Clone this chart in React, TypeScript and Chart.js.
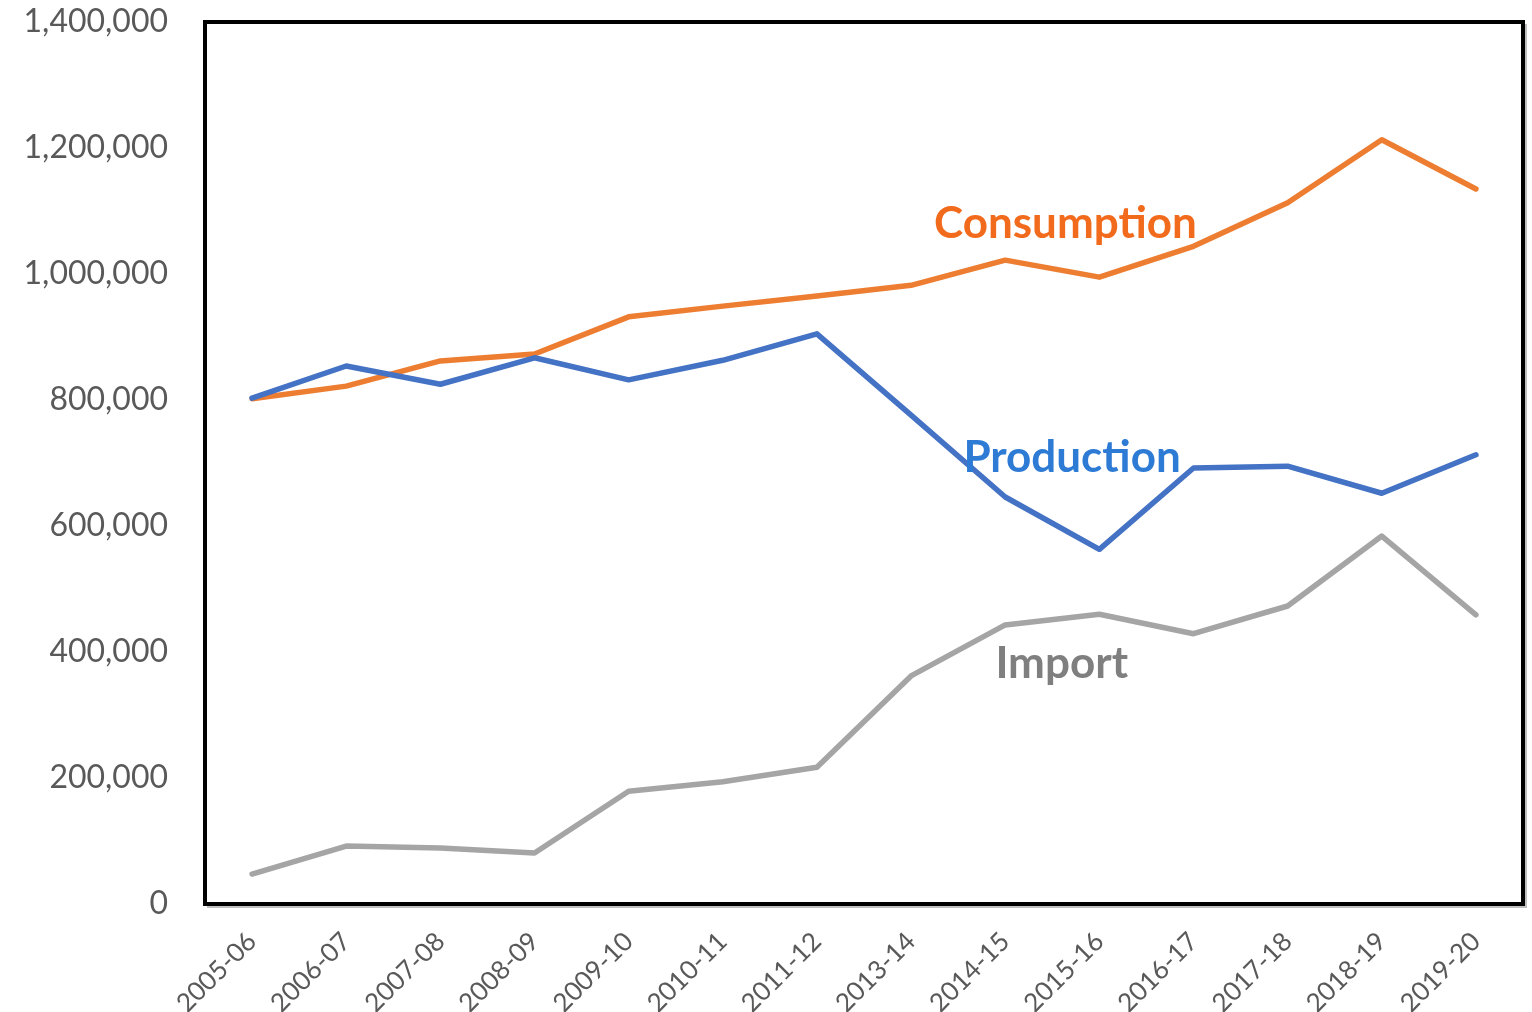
import React, { useEffect, useRef } from "react";
import { Chart, registerables } from "chart.js";

Chart.register(...registerables);

const categories = ["2005-06","2006-07","2007-08","2008-09","2009-10","2010-11","2011-12","2013-14","2014-15","2015-16","2016-17","2017-18","2018-19","2019-20"];
const production = [803000, 854000, 825000, 867000, 832000, 863000, 905000, 776000, 646000, 563000, 692000, 695000, 652000, 713000];
const consumption = [802000, 822000, 862000, 873000, 932000, 949000, 965000, 982000, 1022000, 995000, 1044000, 1113000, 1213000, 1135000];
const imports = [47600, 92000, 89000, 81000, 179000, 194000, 217000, 362000, 443000, 460000, 429000, 473000, 584000, 459000];

const seriesLabels = [
  { text: "Consumption", x: 8.64, y: 1079000, color: "#F26A1B" },
  { text: "Production", x: 8.71, y: 708000, color: "#2E7BD5" },
  { text: "Import", x: 8.6, y: 382000, color: "#7F7F7F" },
];

const FONT = "Lato, 'Open Sans', sans-serif";

const overlayPlugin = {
  id: "overlay",
  afterDatasetsDraw(chart: any) {
    const { ctx, chartArea, scales } = chart;
    ctx.save();
    ctx.font = `bold 44px ${FONT}`;
    ctx.textAlign = "center";
    ctx.textBaseline = "middle";
    for (const l of seriesLabels) {
      ctx.fillStyle = l.color;
      ctx.fillText(l.text, scales.x.getPixelForValue(l.x), scales.y.getPixelForValue(l.y));
    }
    ctx.strokeStyle = "rgba(0,0,0,0.25)";
    ctx.lineWidth = 2;
    ctx.beginPath();
    ctx.moveTo(chartArea.right + 3, chartArea.top + 2);
    ctx.lineTo(chartArea.right + 3, chartArea.bottom + 3);
    ctx.lineTo(chartArea.left + 2, chartArea.bottom + 3);
    ctx.stroke();
    ctx.strokeStyle = "#000";
    ctx.lineWidth = 4;
    ctx.strokeRect(chartArea.left, chartArea.top, chartArea.right - chartArea.left, chartArea.bottom - chartArea.top);
    ctx.restore();
  },
};

export default function App() {
  const ref = useRef<HTMLCanvasElement>(null);
  useEffect(() => {
    const mk = (label: string, data: number[], color: string) => ({
      label,
      data,
      borderColor: color,
      backgroundColor: color,
      borderWidth: 5.5,
      pointRadius: 0,
      tension: 0,
      borderJoinStyle: "round" as const,
      borderCapStyle: "round" as const,
    });
    const chart = new Chart(ref.current!, {
      type: "line",
      data: {
        labels: categories,
        datasets: [
          mk("Import", imports, "#A5A5A5"),
          mk("Production", production, "#4472C4"),
          mk("Consumption", consumption, "#ED7D31"),
        ],
      },
      options: {
        animation: false,
        responsive: false,
        layout: { padding: { top: 22, right: 9, left: 0, bottom: 0 } },
        plugins: { legend: { display: false }, tooltip: { enabled: false } },
        scales: {
          x: {
            offset: true,
            grid: { display: false, drawTicks: false },
            border: { display: false },
            ticks: {
              color: "#595959",
              font: { family: FONT, size: 26 },
              minRotation: 45,
              maxRotation: 45,
              padding: 22,
            },
            afterFit: (s: any) => { s.height = 108; s.paddingLeft = 0; s.paddingRight = 0; },
          },
          y: {
            min: 0,
            max: 1400000,
            grid: { display: false, drawTicks: false },
            border: { display: false },
            ticks: {
              stepSize: 200000,
              color: "#595959",
              font: { family: FONT, size: 32 },
              padding: 37,
              callback: (v: any) => Number(v).toLocaleString("en-US"),
            },
            afterFit: (s: any) => { s.width = 205; s.paddingTop = 0; s.paddingBottom = 0; },
          },
        },
      },
      plugins: [overlayPlugin],
    });
    return () => chart.destroy();
  }, []);
  return (
    <div style={{ position: "fixed", left: 0, top: 0, width: 1532, height: 1012, background: "#fff" }}>
      <canvas ref={ref} width={1532} height={1012} style={{ display: "block" }} />
    </div>
  );
}
